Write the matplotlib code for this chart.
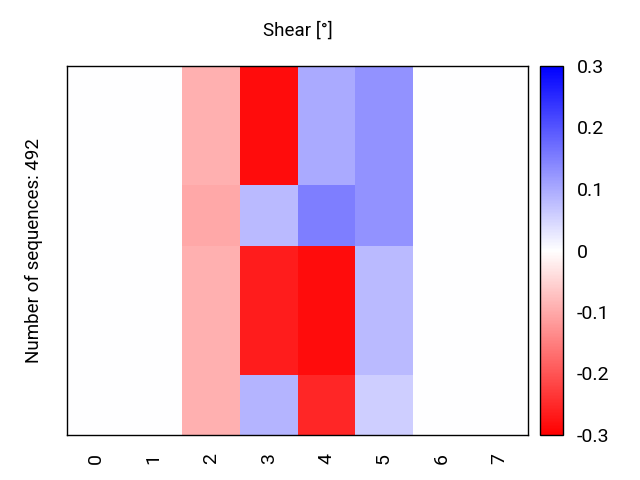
import numpy as np
import matplotlib
matplotlib.use("Agg")
import matplotlib.pyplot as plt

plt.rcParams['font.family'] = ['Roboto', 'DejaVu Sans']

positions = ['0', '1', '2', '3', '4', '5', '6', '7']
group_counts = [159, 81, 172, 80]  # sequences per group (total 492)
shear_values = [
    [0.0, 0.0, -0.093, -0.285, 0.100, 0.128, 0.0, 0.0],
    [0.0, 0.0, -0.103, 0.082, 0.150, 0.128, 0.0, 0.0],
    [0.0, 0.0, -0.093, -0.267, -0.285, 0.082, 0.0, 0.0],
    [0.0, 0.0, -0.093, 0.088, -0.255, 0.057, 0.0, 0.0],
]
n_sequences = 492
vmin, vmax = -0.3, 0.3

fig = plt.figure(figsize=(6.4, 4.8), dpi=100)
ax = fig.add_axes([67/640, 1-435/480, (528-67)/640, (435-66)/480])
cax = fig.add_axes([540/640, 1-435/480, (563-540)/640, (435-66)/480])

vals = np.array(shear_values)
y_edges = np.concatenate([[0], np.cumsum(group_counts)])
x_edges = np.arange(len(positions) + 1) - 0.5
mesh = ax.pcolormesh(x_edges, y_edges, vals, cmap='bwr_r', vmin=vmin, vmax=vmax)
ax.set_ylim(y_edges[-1], 0)
ax.set_xlim(x_edges[0], x_edges[-1])
ax.set_xticks(np.arange(len(positions)))
ax.set_xticklabels(positions, rotation=90, fontsize=14)
ax.tick_params(axis='x', length=0, pad=13)
ax.set_yticks([])
for s in ax.spines.values():
    s.set_linewidth(1.0)
ax.set_title('Shear [°]', fontsize=13.5, pad=22)
ax.set_ylabel(f'Number of sequences: {n_sequences}', fontsize=13.5, labelpad=17)

cb = fig.colorbar(mesh, cax=cax)
cb.set_ticks([-0.3, -0.2, -0.1, 0, 0.1, 0.2, 0.3])
cb.set_ticklabels(['-0.3', '-0.2', '-0.1', '0', '0.1', '0.2', '0.3'])
cax.tick_params(length=0, labelsize=14, pad=10)
cb.outline.set_linewidth(1.0)

fig.savefig('out.png', dpi=100)
